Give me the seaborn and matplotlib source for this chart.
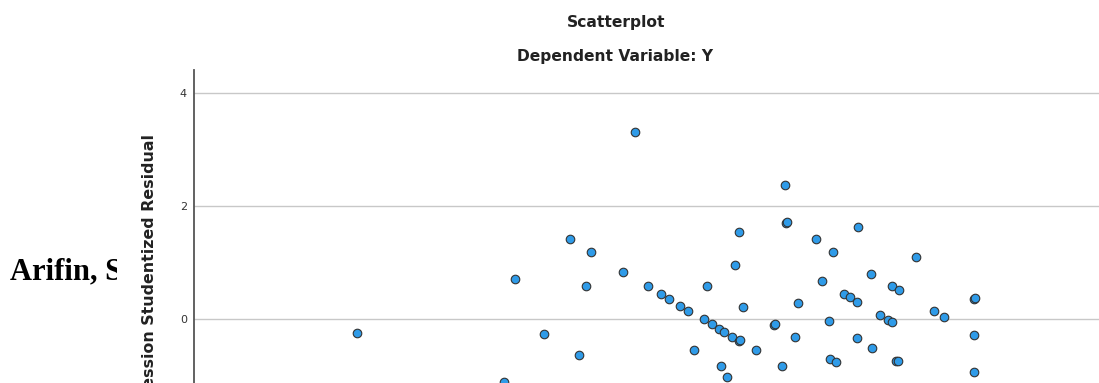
import seaborn as sns
import matplotlib.pyplot as plt
import matplotlib.patches as patches
import pandas as pd

# Regression Standardized Predicted Value (no x ticks shown)
pred = [-1.19, -1.81, -1.61, -2.33, -1.66, -1.30, -1.07, -0.94, -0.87, -0.76, -0.69,
        -3.84, -2.06, -1.72, -0.63, -2.44, 0.24, 0.25, 0.26, -0.20, 0.93, 0.53,
        0.70, 1.49, -0.24, 1.06, 0.59, -0.50, 1.26, 1.32, 0.80, 0.86, 0.92,
        2.04, 2.05, 0.36, -0.16, 1.66, 1.75, 1.14, 1.22, 1.26, -0.53, -0.46,
        -0.39, -0.34, -0.27, -0.20, -0.19, 0.13, 0.14, 0.66, 0.33, 0.92, 2.04,
        -0.04, 1.07, -0.37, 0.21, 0.67, 0.72, 1.30, 1.31, -0.31, 2.04]
# Regression Studentized Residual
resid = [3.31, 1.42, 1.19, 0.71, 0.58, 0.83, 0.58, 0.44, 0.35, 0.23, 0.14,
         -0.25, -0.27, -0.64, -0.55, -1.12, 2.37, 1.70, 1.71, 1.54, 1.63, 1.42,
         1.19, 1.10, 0.96, 0.80, 0.67, 0.58, 0.58, 0.51, 0.44, 0.39, 0.30,
         0.35, 0.36, 0.28, 0.21, 0.14, 0.04, 0.07, -0.02, -0.05, 0.00, -0.09,
         -0.18, -0.23, -0.32, -0.39, -0.38, -0.11, -0.10, -0.04, -0.32, -0.34, -0.28,
         -0.55, -0.51, -0.83, -0.83, -0.71, -0.76, -0.74, -0.75, -1.04, -0.94]

df = pd.DataFrame({'pred': pred, 'resid': resid})

sns.set_style('white')
plt.rcParams['font.family'] = ['DejaVu Sans']

fig = plt.figure(figsize=(10.99, 3.83), dpi=100)
fig.patch.set_facecolor('white')

# page text behind the pasted chart
fig.text(10 / 1099, 1 - 272 / 383, 'Arifin, S., Pratama', family='Liberation Serif',
         fontweight='bold', fontsize=22, va='center', ha='left', color='black', zorder=3)
fig.patches.append(patches.Rectangle((117 / 1099, 0), 1, 1, transform=fig.transFigure,
                                     facecolor='white', edgecolor='none', zorder=4))

ax = fig.add_axes([194 / 1099, -0.2, 0.9, 1.017])
ax.set_zorder(5)
sns.scatterplot(data=df, x='pred', y='resid', ax=ax, s=38, color='#2f9be8',
                edgecolor='#333333', linewidth=0.8, zorder=3)

ax.set_xlim(-5.39, 4.03)
ax.set_ylim(-2.496, 4.407)
ax.set_yticks([0, 2, 4])
ax.set_xticks([])
ax.yaxis.grid(True, color='#c8c8c8', linewidth=1)
ax.tick_params(axis='y', length=0, pad=5, labelsize=8, labelcolor='#333333')
for s in ['top', 'right', 'bottom']:
    ax.spines[s].set_visible(False)
ax.spines['left'].set_color('#555555')
ax.spines['left'].set_linewidth(1.3)

ax.set_xlabel('')
ax.set_ylabel('Regression Studentized Residual', fontweight='bold', fontsize=11.4, color='#222222')
ax.yaxis.set_label_coords(157 / 1099, 1 - 282 / 383, transform=fig.transFigure)

fig.text(616 / 1099, 1 - 23 / 383, 'Scatterplot', ha='center', va='center',
         fontweight='bold', fontsize=11.2, color='#222222', zorder=6)
fig.text(615 / 1099, 1 - 56 / 383, 'Dependent Variable: Y', ha='center', va='center',
         fontweight='bold', fontsize=11.2, color='#222222', zorder=6)

fig.savefig('out.png', dpi=100)
